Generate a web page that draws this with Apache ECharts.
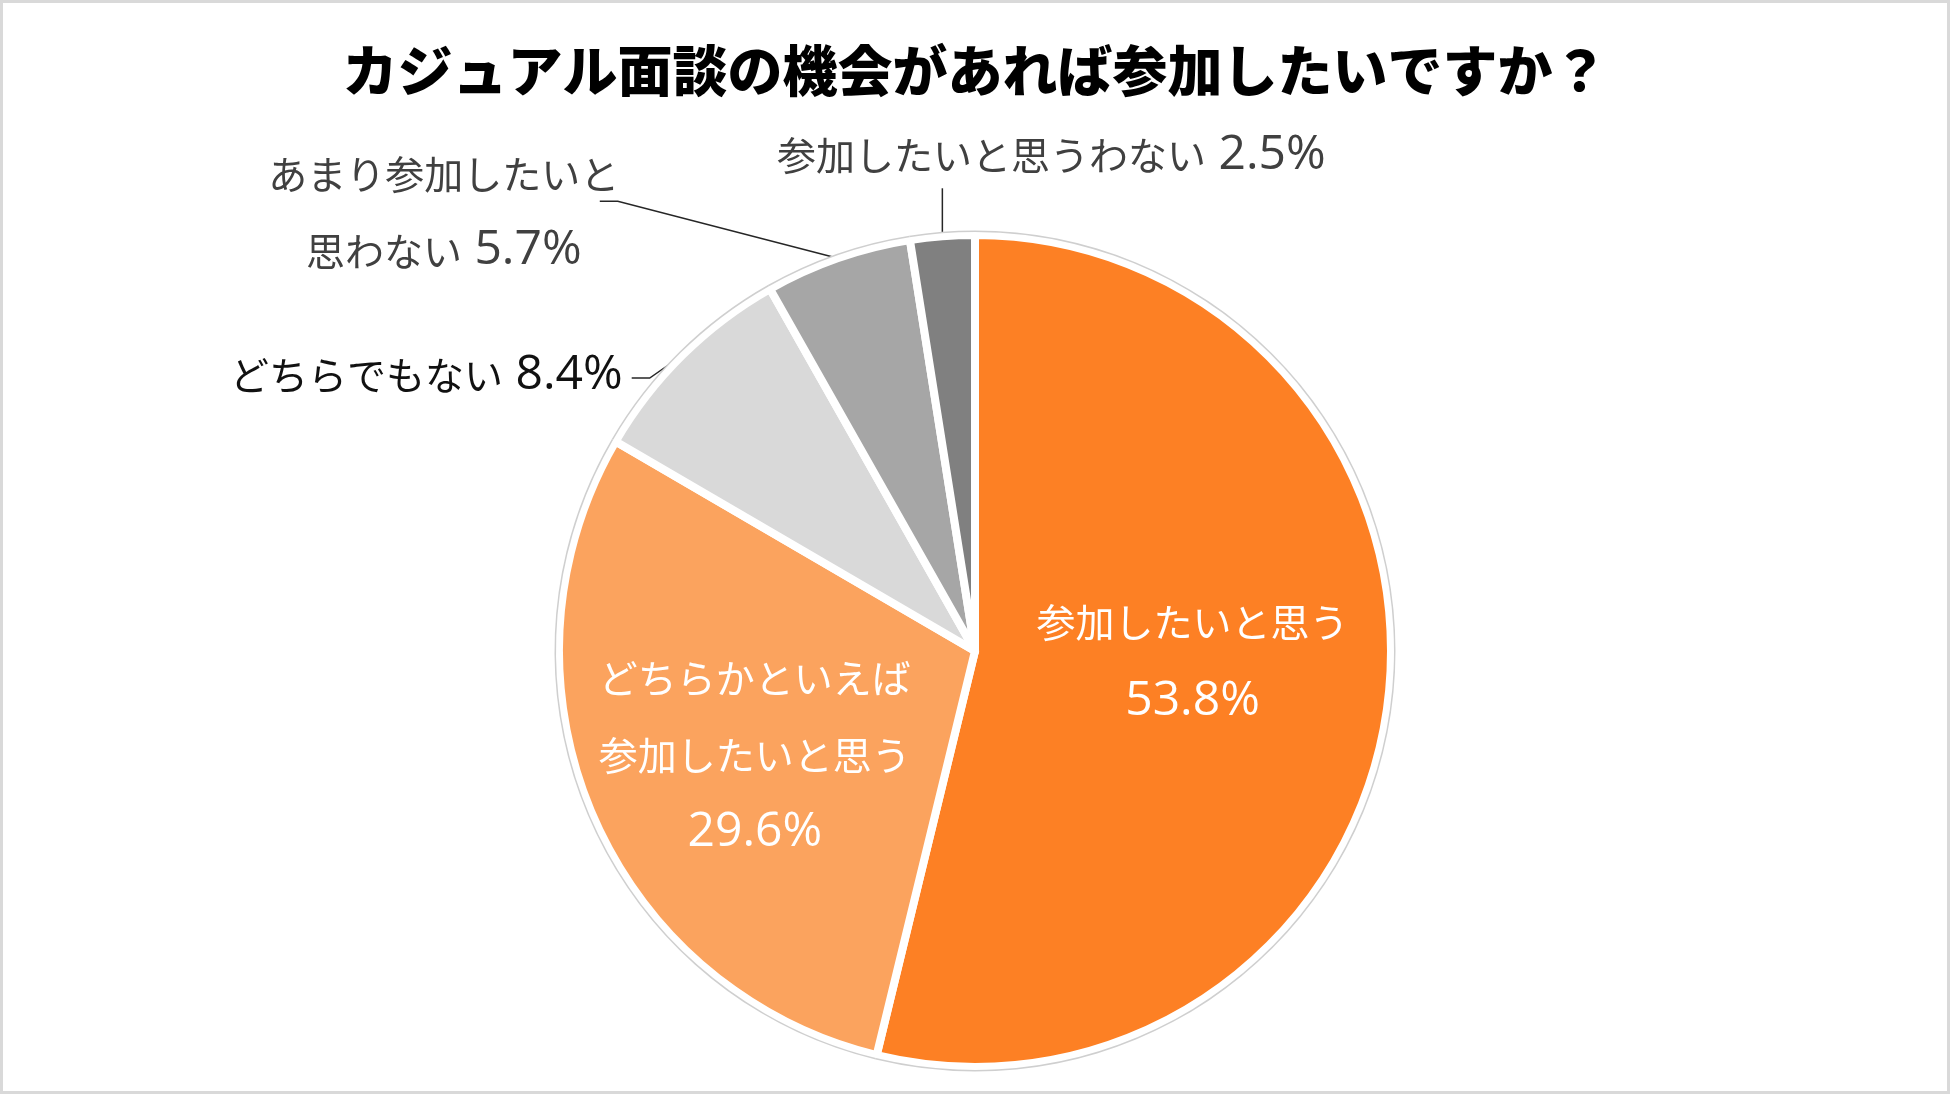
<!DOCTYPE html>
<html>
<head>
<meta charset="utf-8">
<script src="https://cdn.jsdelivr.net/npm/echarts@6/dist/echarts.min.js"></script>
<style>
  html, body { margin: 0; padding: 0; background: #fff; }
  #chart { width: 1950px; height: 1094px; }
</style>
</head>
<body>
<div id="chart"></div>
<script>
// 回答データ（時計回り、12時から）
const categories = [
  '参加したいと思う',
  'どちらかといえば\n参加したいと思う',
  'どちらでもない',
  'あまり参加したいと\n思わない',
  '参加したいと思うわない'
]
const percents = [53.8, 29.6, 8.4, 5.7, 2.5]
const sliceColors = ['#FD8024', '#FBA35E', '#D9D9D9', '#A6A6A6', '#808080']

const chart = echarts.init(document.getElementById('chart'))
const FONT = '"Noto Sans CJK JP", "Noto Sans", sans-serif'
const NUM_FONT = '"Open Sans", "Noto Sans", sans-serif'

// ラベル位置の微調整（円弧上の点からのずれ）
const labelShift = {
  0: { dx: 8, dy: -14 },
  1: { dx: -26, dy: 22 },
  2: { x: -60, y: 20, align: 'right', line: [[-33, 23], [-51, 23]] },
  3: { x: -394, y: -46, align: 'center', line: [[-220, -57], [-238, -57]] },
  4: { x: 109, y: -81, align: 'center', line: [[0, -48]] }
}

const pieData = categories.map((name, i) => {
  const inside = i < 2
  const color = inside ? '#fff' : (i === 2 ? '#111' : '#404040')
  const lh = i === 0 ? 79 : 77
  return {
    name,
    value: percents[i],
    itemStyle: { color: sliceColors[i] },
    label: {
      position: inside ? 'inside' : 'outside',
      color,
      rich: {
        t: { color, fontFamily: FONT, fontSize: 39, lineHeight: lh },
        n: { color, fontFamily: NUM_FONT, fontSize: 48, lineHeight: lh }
      }
    },
    labelLine: { show: !inside }
  }
})

const option = {
  backgroundColor: '#fff',
  title: {
    text: 'カジュアル面談の機会があれば参加したいですか？',
    left: 'center',
    top: 38,
    textStyle: {
      fontFamily: FONT,
      fontSize: 55,
      fontWeight: 900,
      color: '#000'
    }
  },
  graphic: [{
    type: 'rect',
    silent: true,
    shape: { x: 1.5, y: 1.5, width: 1947, height: 1091 },
    style: { fill: 'none', stroke: '#d9d9d9', lineWidth: 3 }
  }],
  series: [
    {
      type: 'pie',
      center: [975, 651],
      radius: 416,
      startAngle: 90,
      clockwise: true,
      avoidLabelOverlap: false,
      animation: false,
      itemStyle: {
        borderColor: '#fff',
        borderWidth: 8
      },
      label: {
        show: true,
        fontFamily: FONT,
        fontSize: 39,
        formatter: (p) => {
          const lines = p.name.split('\n').map(s => '{t|' + s + '}')
          const pct = p.value.toFixed(1) + '%'
          if (p.dataIndex < 2) return lines.concat('{n|' + pct + '}').join('\n')
          lines[lines.length - 1] += '{n| ' + pct + '}'
          return lines.join('\n')
        }
      },
      labelLine: {
        show: true,
        length: 30,
        length2: 10,
        lineStyle: { color: '#262626', width: 1.5 }
      },
      labelLayout: (params) => {
        const s = labelShift[params.dataIndex]
        if (!s) return {}
        if (s.dx != null) return { dx: s.dx, dy: s.dy }
        const pts = params.labelLinePoints
        if (!pts) return {}
        const p0 = pts[0]
        const line = [p0].concat(s.line.map(d => [p0[0] + d[0], p0[1] + d[1]]))
        return {
          x: p0[0] + s.x,
          y: p0[1] + s.y,
          align: s.align,
          verticalAlign: 'middle',
          labelLinePoints: line
        }
      },
      emphasis: { disabled: true },
      data: pieData
    },
    {
      // 外周の細い枠線
      type: 'pie',
      center: [975, 651],
      radius: [419, 420.5],
      startAngle: 90,
      silent: true,
      animation: false,
      label: { show: false },
      labelLine: { show: false },
      itemStyle: { color: '#cfcfcf' },
      emphasis: { disabled: true },
      data: percents.map(v => ({ value: v }))
    }
  ]
}

chart.setOption(option)
window.addEventListener('resize', () => chart.resize())
</script>
</body>
</html>
